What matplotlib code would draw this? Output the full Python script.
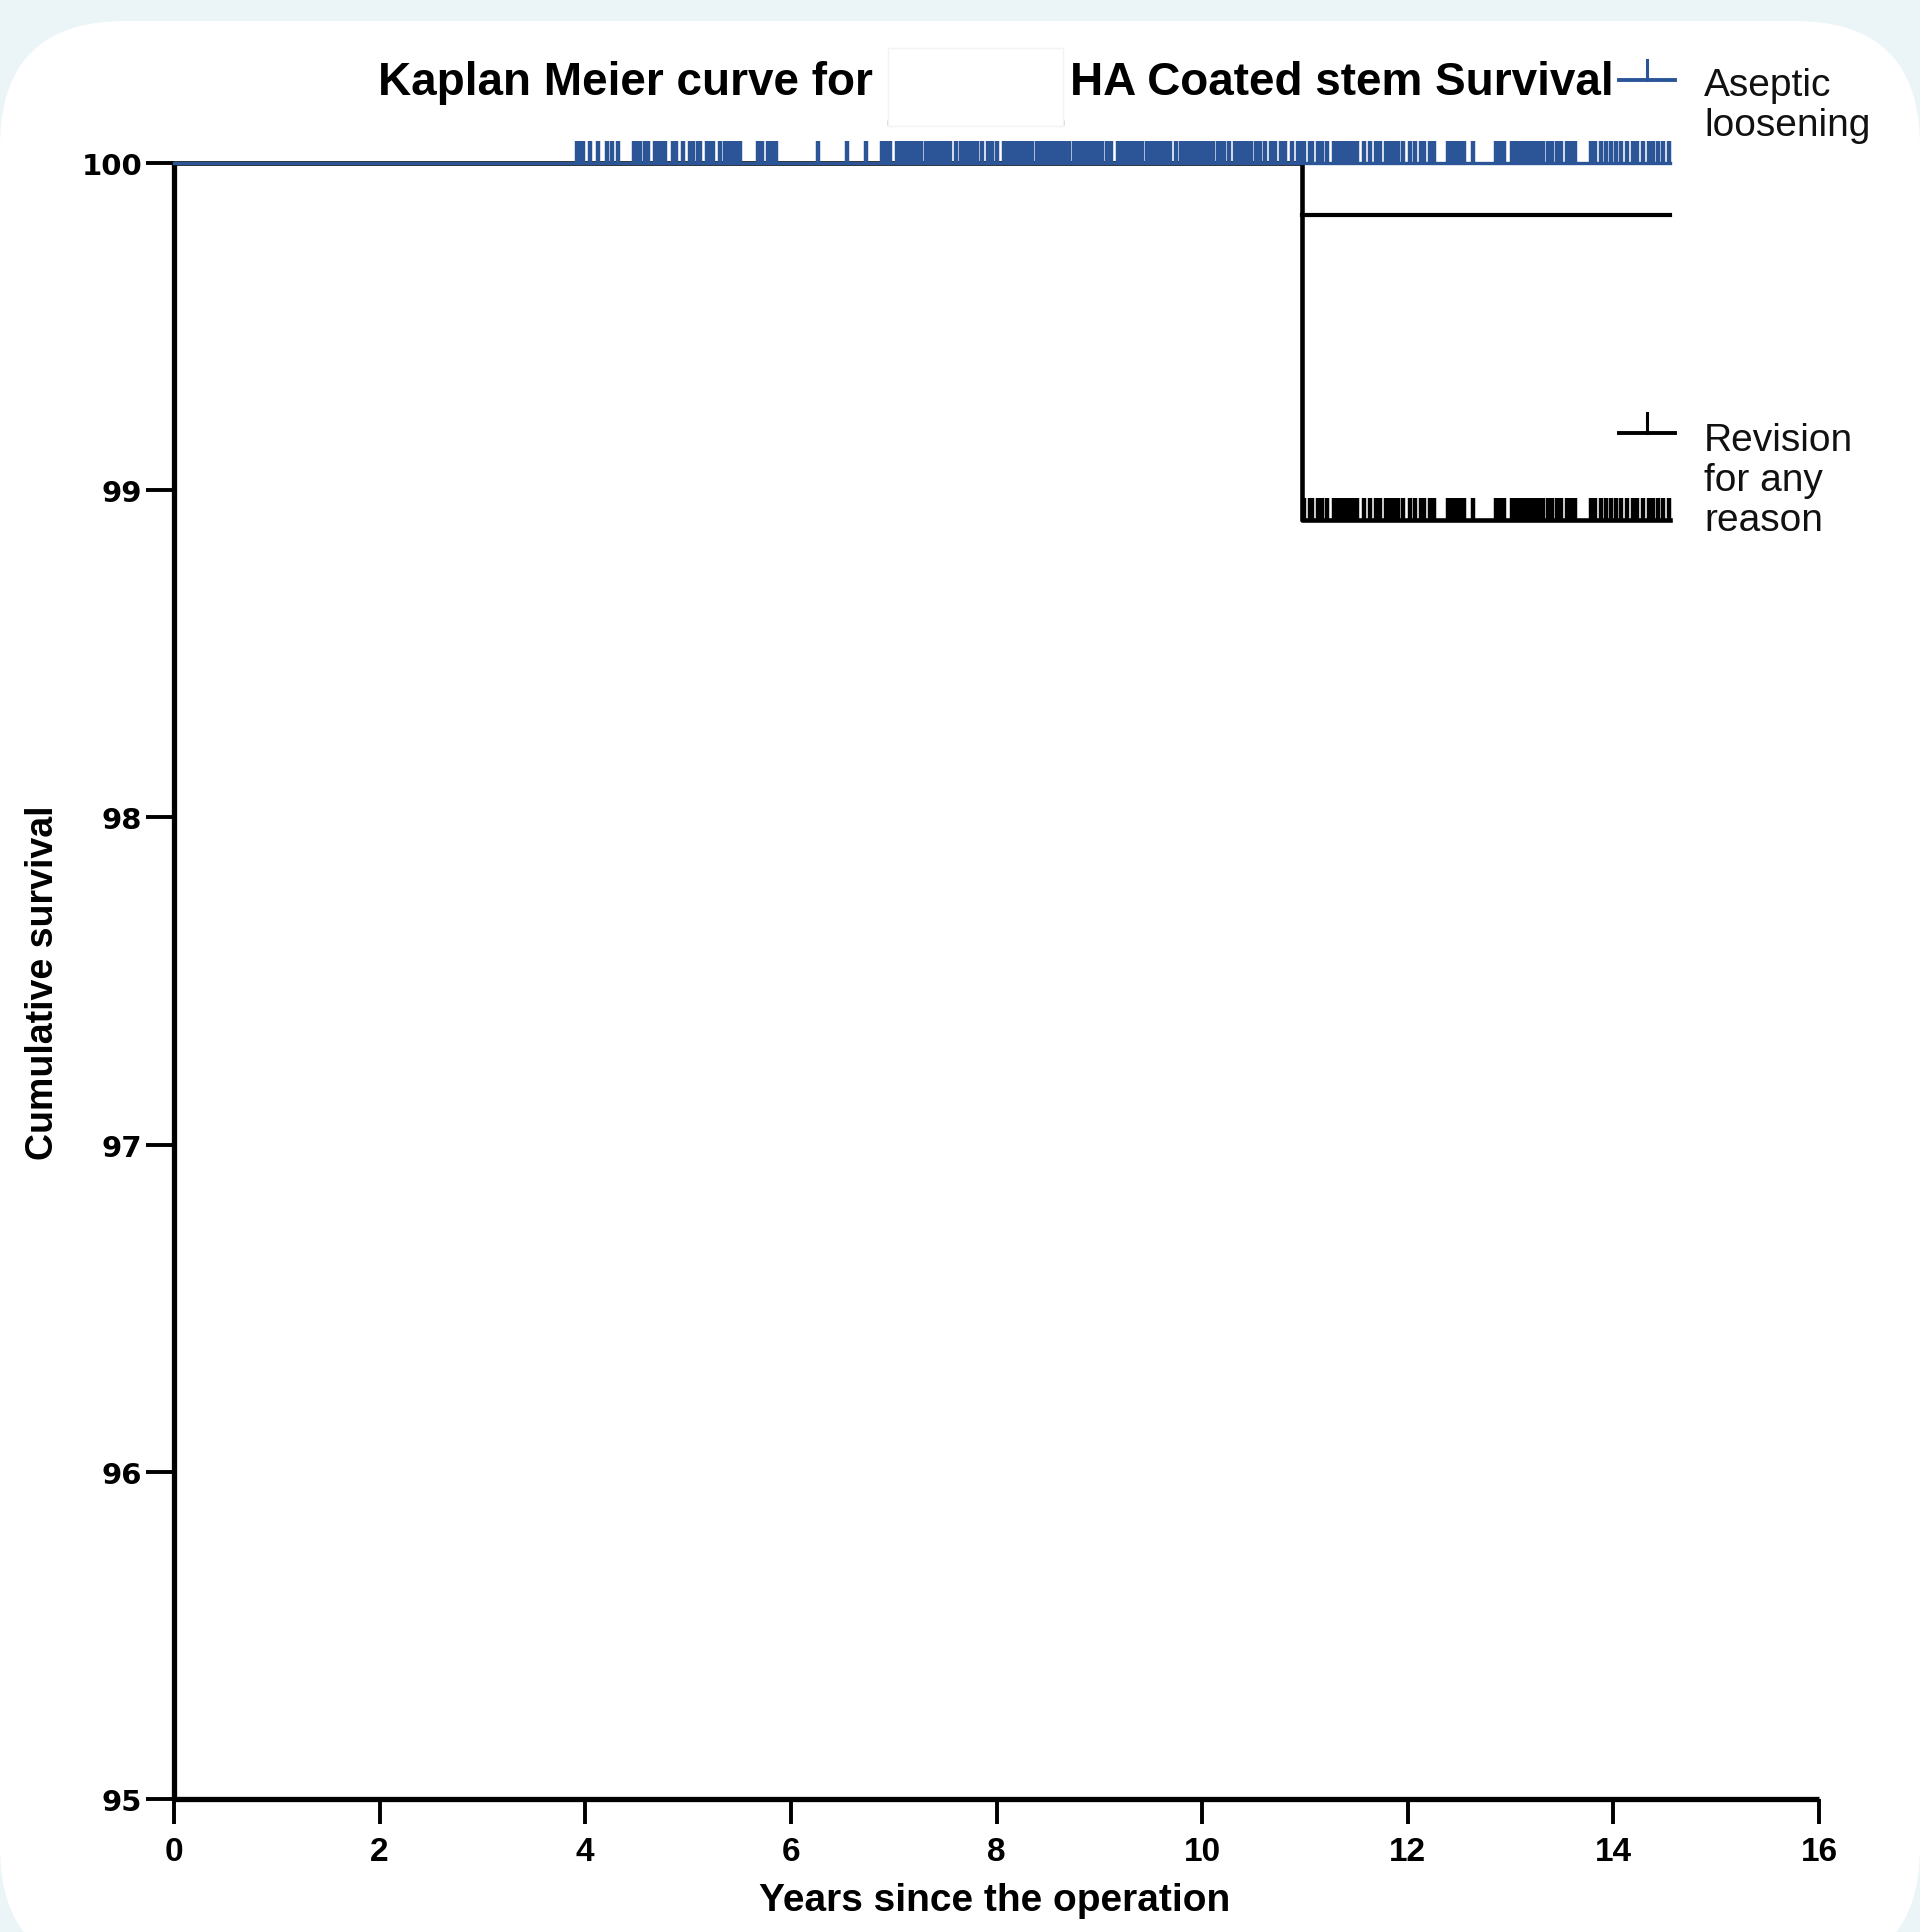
import matplotlib
matplotlib.use("Agg")
import matplotlib.pyplot as plt
from matplotlib.patches import FancyBboxPatch, Rectangle
from matplotlib.lines import Line2D

# step curves (years, cumulative survival %)
curve_years = [0.0, 10.97, 14.55]
aseptic_surv = [100.0, 100.0, 100.0]
revision_surv = [100.0, 98.91, 98.91]
# extra black step level drawn from the drop at ~11 years
upper_years = [10.97, 14.55]
upper_surv = [99.84, 99.84]

# censored cases (years)
censor_years = [
    3.92, 3.95, 3.98, 4.05, 4.12, 4.21, 4.26, 4.32,
    4.47, 4.50, 4.53, 4.58, 4.61, 4.68, 4.71, 4.74, 4.78, 4.85, 4.88, 4.95,
    5.02, 5.05, 5.10, 5.12, 5.18, 5.21, 5.24, 5.31, 5.36, 5.39, 5.42, 5.45,
    5.48, 5.51, 5.68, 5.72, 5.78, 5.82, 5.86, 6.26,
    6.55, 6.73, 6.89, 6.93, 6.96, 7.03,
    7.07, 7.11, 7.15, 7.19, 7.23, 7.27, 7.31, 7.35, 7.39, 7.43, 7.47, 7.51, 7.55,
    7.61, 7.65, 7.69, 7.73, 7.77, 7.81, 7.86, 7.92, 7.96, 8.00,
    8.07, 8.11, 8.15, 8.19, 8.23, 8.27, 8.31, 8.35, 8.39, 8.43, 8.47, 8.51,
    8.55, 8.59, 8.63, 8.67, 8.71, 8.75, 8.79, 8.83, 8.87, 8.91, 8.95, 8.99,
    9.03, 9.07, 9.11, 9.18, 9.22, 9.26, 9.30, 9.34, 9.38, 9.42, 9.46, 9.50,
    9.54, 9.58, 9.62, 9.66, 9.69, 9.75, 9.79, 9.83, 9.87, 9.91, 9.95, 9.99,
    10.03, 10.07, 10.11, 10.15, 10.19, 10.21, 10.26,
    10.32, 10.36, 10.40, 10.44, 10.48, 10.52, 10.56, 10.61,
    10.67, 10.71, 10.77, 10.81, 10.87, 10.93, 10.97, 10.99,
    11.05, 11.07, 11.13, 11.17, 11.21,
    11.28, 11.32, 11.36, 11.40, 11.44, 11.48, 11.51, 11.57, 11.63, 11.69, 11.73,
    11.79, 11.83, 11.87, 11.91, 11.95, 12.02, 12.07, 12.13, 12.16, 12.22, 12.26,
    12.39, 12.43, 12.47, 12.51, 12.55, 12.63,
    12.86, 12.90, 12.94, 13.01, 13.04,
    13.08, 13.12, 13.16, 13.20, 13.24, 13.28, 13.32, 13.36, 13.40,
    13.45, 13.49, 13.55, 13.59, 13.63, 13.78, 13.82, 13.88, 13.93, 13.98,
    14.03, 14.07, 14.13, 14.19, 14.23, 14.29, 14.35, 14.39, 14.43, 14.48, 14.54,
]

x_ticks = [0, 2, 4, 6, 8, 10, 12, 14, 16]
y_ticks = [95, 96, 97, 98, 99, 100]

title_left = "Kaplan Meier curve for"
title_right = "HA Coated stem Survival"
legend_labels = ["Aseptic\nloosening", "Revision\nfor any\nreason"]

BLUE = "#2c5597"
W, H = 1920, 1933
SANS = ["Liberation Sans", "DejaVu Sans"]


def fx(px):
    return px / W


def fy(py):
    return 1 - py / H


fig = plt.figure(figsize=(W / 100, H / 100), dpi=100)
fig.patch.set_facecolor("#ebf4f7")

# white rounded card behind everything
card = FancyBboxPatch((0, -0.40), 19.2, 19.51,
                      boxstyle="round,pad=0,rounding_size=1.25",
                      transform=fig.dpi_scale_trans, facecolor="white",
                      edgecolor="none", zorder=-10)
fig.patches.append(card)

ax = fig.add_axes([fx(174), fy(1800), fx(1819) - fx(174), fy(164) - fy(1800)])
ax.patch.set_alpha(0)
ax.set_xlim(0, 16)
ax.set_ylim(95, 100)

ax.step(curve_years, revision_surv, where="post", color="black", lw=3.3,
        clip_on=False, zorder=3)
ax.step(upper_years, upper_surv, where="post", color="black", lw=3.0,
        clip_on=False, zorder=3)
ax.step(curve_years, aseptic_surv, where="post", color=BLUE, lw=2.4,
        clip_on=False, zorder=4)

tick_h = 0.066
late = [t for t in censor_years if t > curve_years[1]]
ax.vlines(late, revision_surv[-1], revision_surv[-1] + tick_h, color="black",
          lw=3.2, clip_on=False, zorder=3)
ax.vlines(censor_years, aseptic_surv[-1], aseptic_surv[-1] + tick_h,
          color=BLUE, lw=3.2, clip_on=False, zorder=4)

for s in ["top", "right"]:
    ax.spines[s].set_visible(False)
for s in ["left", "bottom"]:
    ax.spines[s].set_linewidth(3.8)
    ax.spines[s].set_capstyle("butt")

ax.set_xticks(x_ticks)
ax.set_yticks(y_ticks)
ax.set_xticklabels([str(v) for v in x_ticks], family=SANS, weight="bold",
                   fontsize=24)
ax.set_yticklabels([str(v) for v in y_ticks], family="DejaVu Sans",
                   weight="bold", fontsize=21)
ax.tick_params(axis="x", direction="out", length=18, width=2.8, pad=9)
ax.tick_params(axis="y", direction="out", length=20, width=2.8, pad=3)

fig.text(fx(995), fy(1901), "Years since the operation", ha="center",
         va="center", family=SANS, weight="bold", fontsize=28)
fig.text(fx(43), fy(983), "Cumulative survival", ha="center", va="center",
         rotation=90, family=SANS, weight="bold", fontsize=27)

# title with the blanked-out box in between
fig.text(fx(873), fy(83), title_left, ha="right", va="center", family=SANS,
         weight="bold", fontsize=33)
fig.text(fx(1070), fy(83), title_right, ha="left", va="center", family=SANS,
         weight="bold", fontsize=33)
fig.patches.append(Rectangle((fx(888), fy(127)), fx(1063) - fx(888),
                             fy(49) - fy(127), transform=fig.transFigure,
                             facecolor="white", edgecolor="#f3f3f3", lw=1,
                             zorder=5))
fig.add_artist(Line2D([fx(890), fx(1062)], [fy(124), fy(124)],
                      color="#c8c8c8", lw=4, alpha=0.85))

# legend drawn by hand
for color, y_line, y_text, label in [(BLUE, 81, 106, legend_labels[0]),
                                     ("black", 434, 481, legend_labels[1])]:
    fig.add_artist(Line2D([fx(1619), fx(1675)], [fy(y_line), fy(y_line)],
                          color=color, lw=2.8))
    fig.add_artist(Line2D([fx(1647), fx(1647)], [fy(y_line), fy(y_line - 20)],
                          color=color, lw=2.2))
    fig.text(fx(1704), fy(y_text), label, ha="left", va="center", family=SANS,
             fontsize=28, linespacing=1.15, color="#111111")

fig.savefig("out.png", dpi=100, facecolor=fig.get_facecolor())
